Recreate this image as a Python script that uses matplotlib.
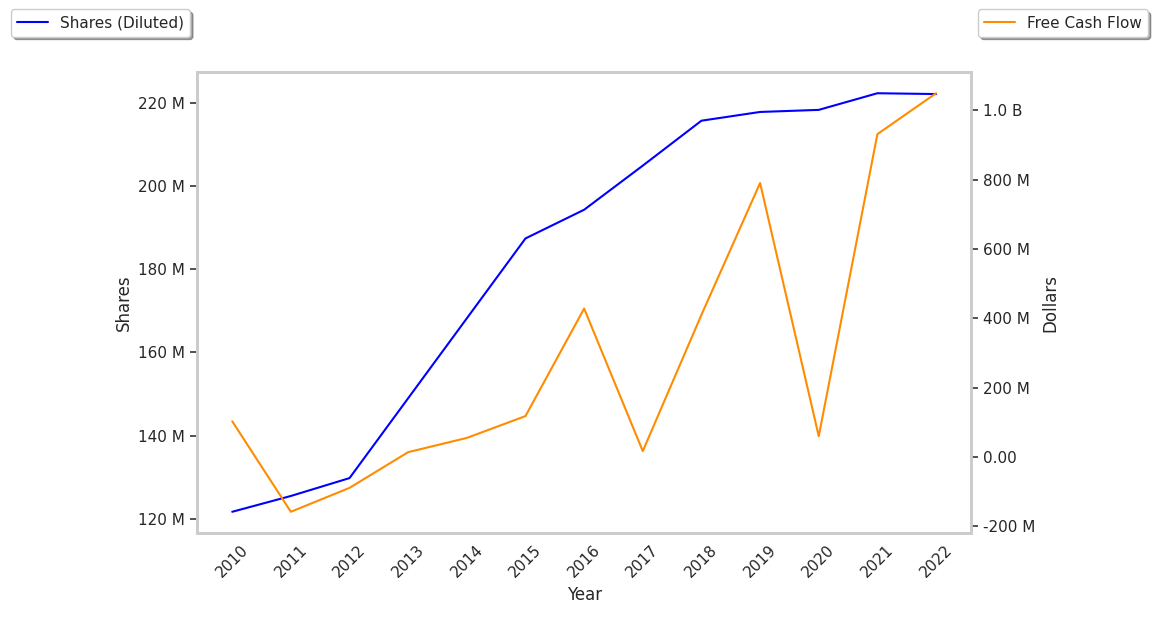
import matplotlib.pyplot as plt
import seaborn as sns
from matplotlib.ticker import FuncFormatter

years = [2010, 2011, 2012, 2013, 2014, 2015, 2016, 2017, 2018, 2019, 2020, 2021, 2022]
shares = [121.7e6, 125.5e6, 129.8e6, 149.0e6, 168.2e6, 187.4e6, 194.3e6,
          204.9e6, 215.7e6, 217.8e6, 218.3e6, 222.3e6, 222.1e6]
fcf = [103e6, -158e6, -89e6, 14e6, 55e6, 118e6, 428e6,
       17e6, 410e6, 790e6, 60e6, 931e6, 1049e6]


def fmt(x, pos):
    if abs(x) >= 1e9:
        return f'{x / 1e9:.1f} B'
    if abs(x) >= 1e6:
        return f'{x / 1e6:.0f} M'
    return f'{x:.2f}'


sns.set_style('white')
plt.rcParams.update({'xtick.labelsize': 11, 'ytick.labelsize': 11,
                     'axes.labelsize': 12, 'legend.fontsize': 11})
fig, ax1 = plt.subplots(figsize=(11.59, 6.18), dpi=100)
fig.subplots_adjust(left=0.170, right=0.838, top=0.883, bottom=0.138)
ax2 = ax1.twinx()

l1, = ax1.plot(years, shares, color='blue', label='Shares (Diluted)')
l2, = ax2.plot(years, fcf, color='darkorange', label='Free Cash Flow')

ax1.set_xticks(years)
ax1.set_xticklabels([str(y) for y in years], rotation=45)
ax1.set_xlabel('Year')
ax1.set_ylabel('Shares')
ax2.set_ylabel('Dollars')
ax1.yaxis.set_major_formatter(FuncFormatter(fmt))
ax2.yaxis.set_major_formatter(FuncFormatter(fmt))

ax1.tick_params(axis='y', left=True, length=5, width=1.2, color='#333333')
ax2.tick_params(axis='y', right=True, length=5, width=1.2, color='#333333')

for ax in (ax1, ax2):
    for s in ax.spines.values():
        s.set_color('#cccccc')
        s.set_linewidth(2)

fig.legend(handles=[l1], loc='upper left', bbox_to_anchor=(0.003, 0.997), shadow=True)
fig.legend(handles=[l2], loc='upper right', bbox_to_anchor=(0.997, 0.997), shadow=True)

fig.savefig('out.png')
